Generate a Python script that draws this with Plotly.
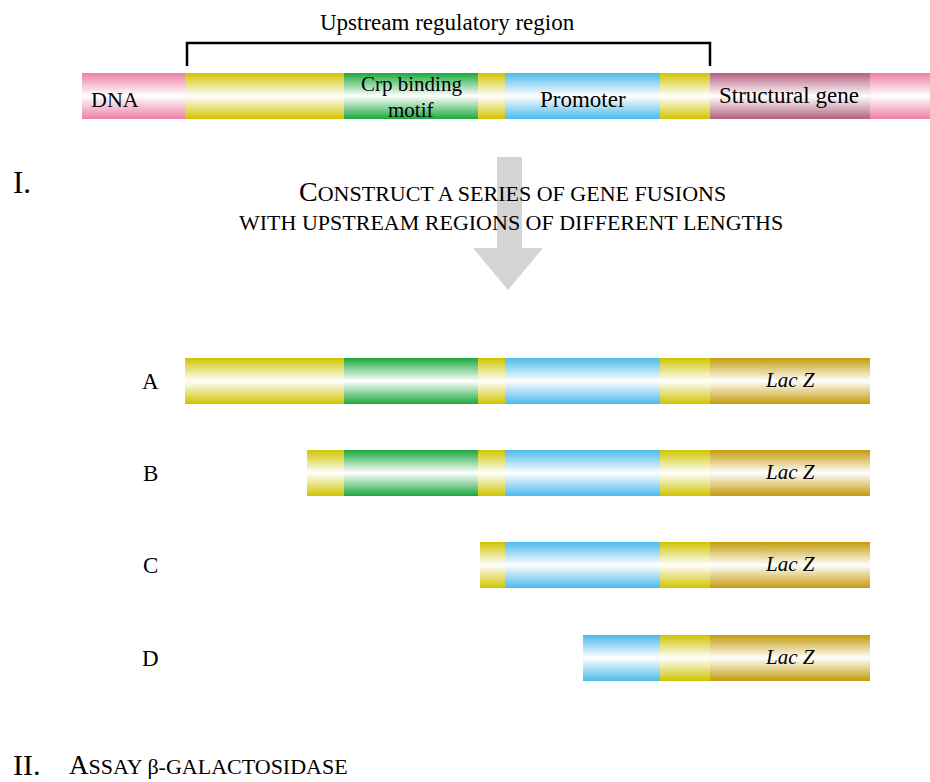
import plotly.graph_objects as go

W, H = 930, 782
FONT = "Liberation Serif"

# ---------------- data ----------------
# top DNA map: segment edges (x) and segment kinds
dna_edges = [82, 185, 344, 478, 505, 660, 710, 870, 930]
dna_parts = ["dna", "upstream", "crp", "upstream", "promoter", "upstream", "structural", "dna"]
dna_y = [73, 119]

# fusion constructs
fusion_names = ["A", "B", "C", "D"]
fusion_start = [185, 307, 480, 583]
fusion_edges = [185, 344, 478, 505, 660, 710, 870]
fusion_parts = ["upstream", "crp", "upstream", "promoter", "upstream", "lacz"]
fusion_y = [381, 473, 565, 658]
bar_half = 23

colors = {
    "dna": "#ee7fa4",
    "upstream": "#d0c400",
    "crp": "#1ba83c",
    "promoter": "#4bbaec",
    "structural": "#b5607f",
    "lacz": "#c49b0a",
}

# bracket for upstream regulatory region
bracket_x = [187, 710]
bracket_y = [43, 66]

# arrow
arrow_shaft_x = [497, 522]
arrow_shaft_y = [157, 248]
arrow_head_x = [473, 543]
arrow_tip = [508, 290]

fig = go.Figure()


def segment(x0, x1, y0, y1, color):
    fig.add_trace(go.Scatter(
        x=[x0, x1, x1, x0, x0], y=[y0, y0, y1, y1, y0],
        mode="lines", fill="toself", line=dict(width=0),
        fillgradient=dict(type="vertical", start=y0, stop=y1,
                          colorscale=[[0, color], [0.5, "#ffffff"], [1, color]]),
        hoverinfo="skip", showlegend=False))


# top DNA bar
for i, part in enumerate(dna_parts):
    segment(dna_edges[i], dna_edges[i + 1], dna_y[0], dna_y[1], colors[part])

# fusion bars
for name, start, yc in zip(fusion_names, fusion_start, fusion_y):
    for i, part in enumerate(fusion_parts):
        x0 = max(fusion_edges[i], start)
        x1 = fusion_edges[i + 1]
        if x1 <= start:
            continue
        segment(x0, x1, yc - bar_half, yc + bar_half, colors[part])

# bracket
fig.add_trace(go.Scatter(
    x=[bracket_x[0], bracket_x[0], bracket_x[1], bracket_x[1]],
    y=[bracket_y[1], bracket_y[0], bracket_y[0], bracket_y[1]],
    mode="lines", line=dict(color="black", width=2.5),
    hoverinfo="skip", showlegend=False))

# arrow
fig.add_trace(go.Scatter(
    x=[arrow_shaft_x[0], arrow_shaft_x[1], arrow_shaft_x[1], arrow_head_x[1], arrow_tip[0],
       arrow_head_x[0], arrow_shaft_x[0], arrow_shaft_x[0]],
    y=[arrow_shaft_y[0], arrow_shaft_y[0], arrow_shaft_y[1], arrow_shaft_y[1], arrow_tip[1],
       arrow_shaft_y[1], arrow_shaft_y[1], arrow_shaft_y[0]],
    mode="lines", fill="toself", fillcolor="#d4d4d4", line=dict(width=0),
    hoverinfo="skip", showlegend=False))

ann = []


def text(x, y, s, size, xanchor="center", italic=False, yanchor="middle"):
    ann.append(dict(x=x, y=y, text=s, showarrow=False, xanchor=xanchor, yanchor=yanchor,
                    borderpad=0,
                    font=dict(family=FONT, size=size, color="black",
                              style="italic" if italic else "normal")))


text(447, 22, "Upstream regulatory region", 23)
text(90, 99, "DNA", 22, xanchor="left")
text(411, 97, "Crp binding", 21, yanchor="bottom")
text(411, 97, "motif", 21, yanchor="top")
text(583, 99, "Promoter", 23)
text(789, 95, "Structural gene", 23)

text(12, 182, "I.", 31, xanchor="left")
text(512, 191, '<span style="font-size:28px">C</span>ONSTRUCT A SERIES OF GENE FUSIONS', 22)
text(511, 222, "WITH UPSTREAM REGIONS OF DIFFERENT LENGTHS", 22)

for name, yc in zip(fusion_names, fusion_y):
    text(150, yc, name, 23)
    text(790, yc - 1, "Lac Z", 21, italic=True)

text(12, 764, "II.", 30, xanchor="left")
text(68, 765, '<span style="font-size:27px">A</span>SSAY β-GALACTOSIDASE', 22, xanchor="left")

fig.update_layout(
    width=W, height=H, margin=dict(l=0, r=0, t=0, b=0),
    paper_bgcolor="white", plot_bgcolor="white",
    xaxis=dict(range=[0, W], visible=False, fixedrange=True),
    yaxis=dict(range=[H, 0], visible=False, fixedrange=True),
    annotations=ann, showlegend=False,
)

fig.write_html("out.html", config={"displayModeBar": False},
               post_script="document.body.style.margin='0';document.body.style.overflow='hidden';")
